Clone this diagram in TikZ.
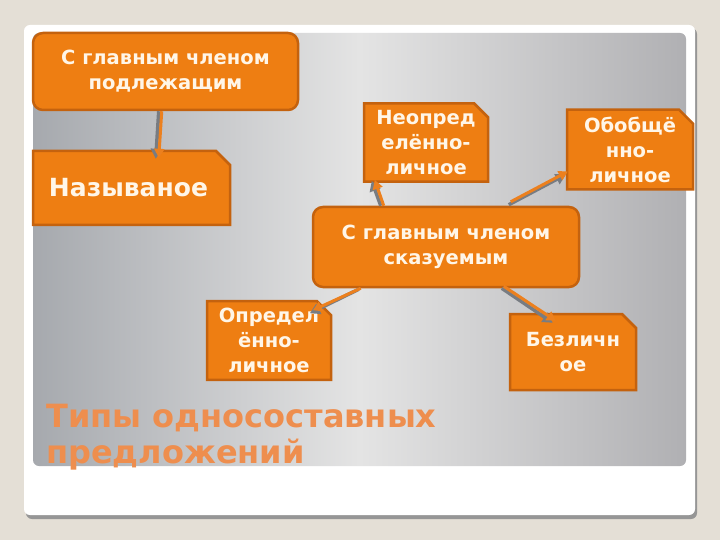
\documentclass[tikz,border=0pt]{standalone}
\usepackage{fontspec}
\setmainfont{DejaVu Sans}
\usetikzlibrary{shapes.misc,arrows.meta,calc}
\definecolor{bgbeige}{RGB}{228,223,214}
\definecolor{boxfill}{RGB}{238,126,18}
\definecolor{boxline}{RGB}{196,98,14}
\definecolor{titlecol}{RGB}{238,142,78}
\definecolor{arrcol}{RGB}{236,128,30}
\definecolor{shadowgray}{RGB}{120,124,130}
\definecolor{txtcol}{RGB}{255,246,232}
\definecolor{cardshadow}{RGB}{150,150,150}
\definecolor{panelleft}{RGB}{166,169,174}
\definecolor{panelmid}{RGB}{228,228,228}
\definecolor{panelright}{RGB}{176,176,179}
\tikzset{
  boxbase/.style={fill=boxfill,draw=boxline,line width=2.5pt,text=txtcol,
    font=\bfseries\fontsize{19.5}{25}\selectfont,align=center,inner sep=0pt},
  roundbox/.style={boxbase,rectangle,rounded corners=10pt},
  snipbox/.style={boxbase,chamfered rectangle,chamfered rectangle corners=north east,
    chamfered rectangle xsep=7pt,chamfered rectangle ysep=7pt},
  arrshadow/.style={draw=shadowgray,line width=3.5pt,-{Triangle[length=10pt,width=11pt]}},
  arrmain/.style={draw=arrcol,line width=3pt,-{Triangle[length=9pt,width=10pt]}},
}
\begin{document}
\begin{tikzpicture}[x=1pt,y=-1pt]
\useasboundingbox (0,0) rectangle (720,540);
\fill[bgbeige] (0,0) rectangle (720,540);
% card shadow and card
\fill[rounded corners=6pt,cardshadow] (26,28) rectangle (697,519);
\fill[rounded corners=6pt,white] (24,25) rectangle (695,515);
% gray panel
\shade[rounded corners=6pt,left color=panelleft,right color=panelright,middle color=panelmid]
  (33,33) rectangle (686,466);
% title
\node[anchor=north west,inner sep=0pt,text=titlecol,align=left,
  font=\bfseries\fontsize{32}{36}\selectfont] (title) at (46,404)
  {Типы односоставных\\предложений};
% boxes
\node[roundbox,minimum width=265pt,minimum height=77pt] (n1) at (165.5,71.5)
  {С главным членом\\подлежащим};
\node[snipbox,minimum width=197pt,minimum height=74pt,
  font=\bfseries\fontsize{25}{28}\selectfont] (naz) at (131.5,188)
  {\hspace*{-6pt}Называное};
\node[snipbox,minimum width=124pt,minimum height=75pt] (neo) at (426,142.5)
  {Неопред\\елённо-\\личное};
\node[snipbox,minimum width=126pt,minimum height=75pt] (obo) at (630,149.5)
  {Обобщё\\нно-\\личное};
\node[roundbox,minimum width=266pt,minimum height=80pt] (c2) at (446,247)
  {С главным членом\\сказуемым};
\node[snipbox,minimum width=124pt,minimum height=75pt] (opr) at (269,340.5)
  {Определ\\ённо-\\личное};
\node[snipbox,minimum width=126pt,minimum height=76pt] (bez) at (573,352)
  {Безличн\\ое};
% connectors: shadows
\draw[arrshadow] ($(n1.south west)+(127,0)$) -- ($(naz.north west)+(124,9)$);
\draw[arrshadow] ($(c2.north west)+(69,0)$) -- ($(neo.south west)+(9,-2)$);
\draw[arrshadow] ($(c2.north west)+(197,-1)$) -- ($(obo.west)+(0,25)$);
\draw[arrshadow] ($(c2.south west)+(47,1)$) -- ($(opr.north east)+(-15,6)$);
\draw[arrshadow] ($(c2.south west)+(190,0)$) -- ($(bez.north west)+(44,10)$);
% connectors: main
\draw[arrmain] ($(n1.south west)+(130,0)$) -- ($(naz.north west)+(127,8)$);
\draw[arrmain] ($(c2.north west)+(72,0)$) -- ($(neo.south west)+(12,-3)$);
\draw[arrmain] ($(c2.north west)+(199,-4)$) -- ($(obo.west)+(2,22)$);
\draw[arrmain] ($(c2.south west)+(49,0)$) -- ($(opr.north east)+(-12,3)$);
\draw[arrmain] ($(c2.south west)+(192,-2)$) -- ($(bez.north west)+(47,8)$);
\end{tikzpicture}
\end{document}
